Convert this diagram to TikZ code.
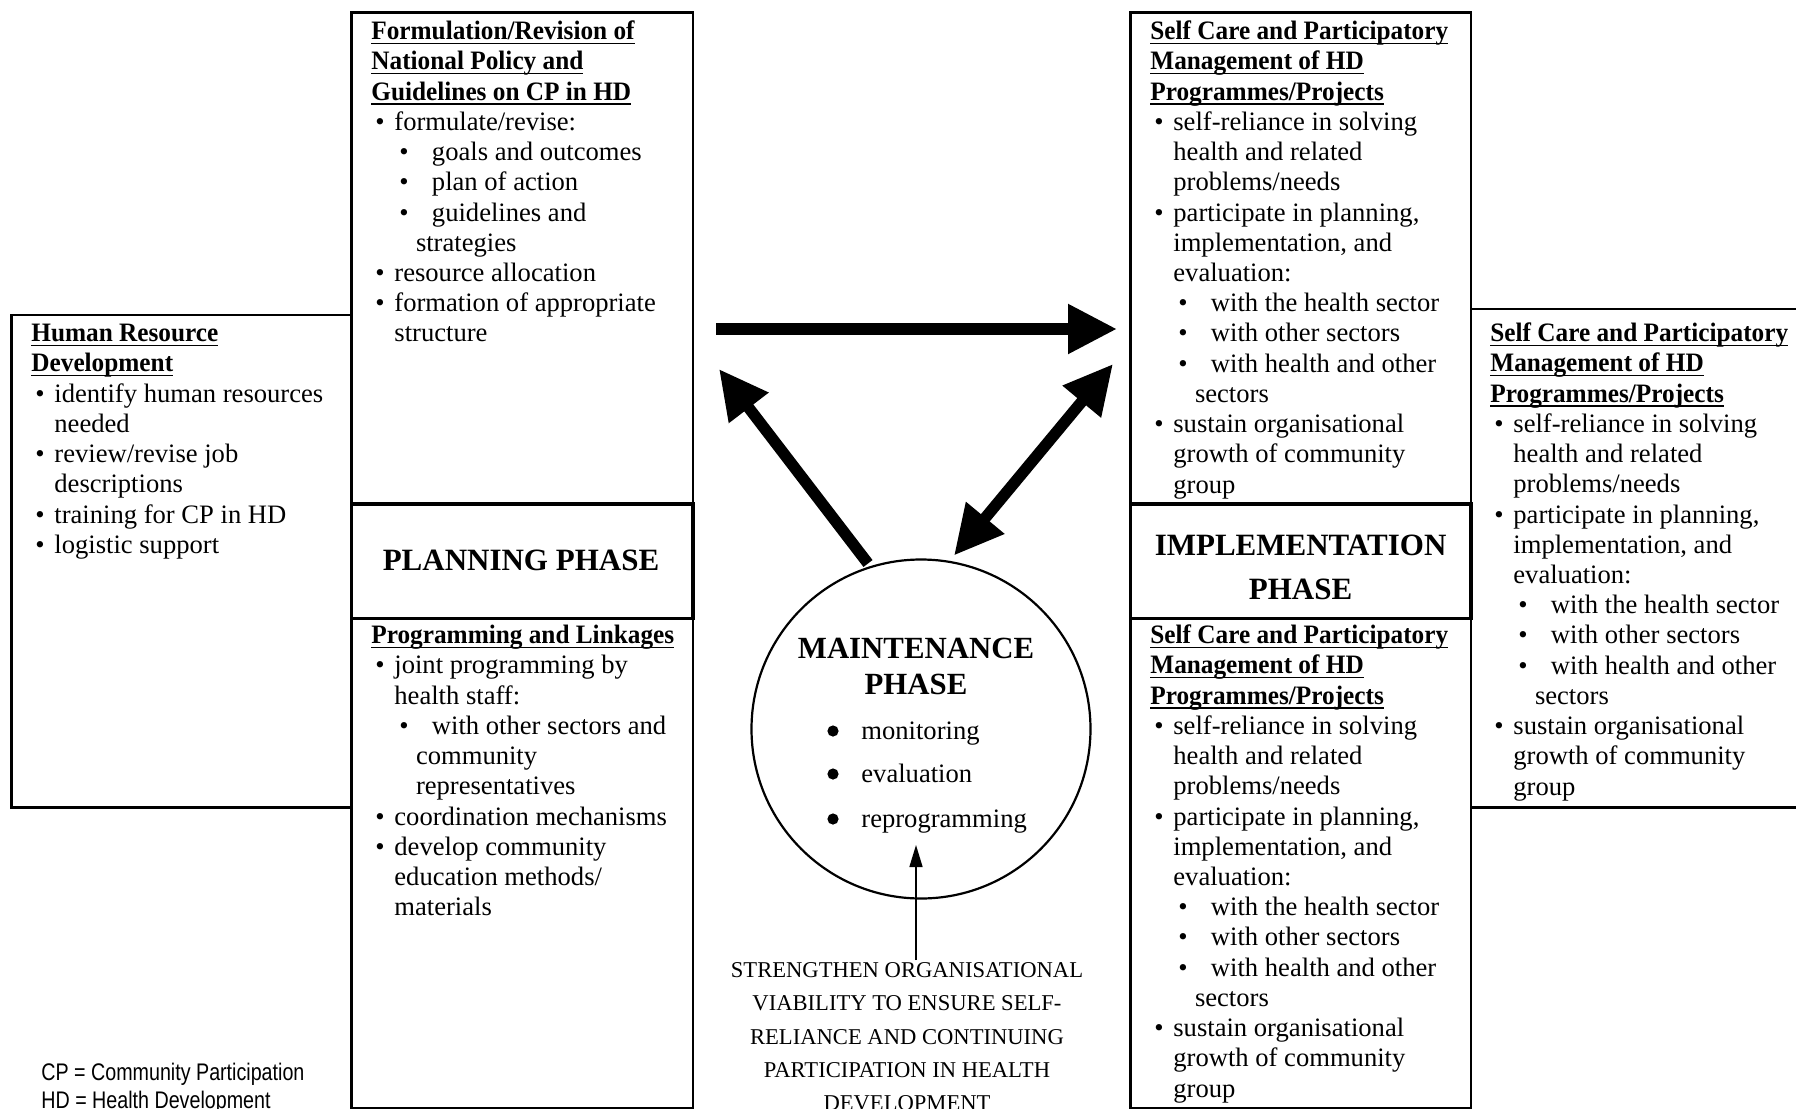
\documentclass[tikz,border=0pt]{standalone}
\usepackage{fontspec}
\setmainfont{Liberation Serif}
\newfontfamily\legfont{Liberation Sans}
\usepackage{graphicx}
\usetikzlibrary{arrows.meta}
\newcommand\ulbf[1]{\setbox0\hbox{\scalebox{0.95}[1]{\bfseries #1}}\rlap{\rule[-2.3pt]{\wd0}{0.7pt}}\box0}
\newcommand\bi{\hspace*{2pt}\makebox[9.5pt][l]{\textbullet}}
\newcommand\bic{\hspace*{11.5pt}}
\newcommand\bii{\hspace*{14pt}\makebox[16.3pt][l]{\textbullet}}
\newcommand\biic{\hspace*{22.3pt}}
\newcommand\selfcare{\strut\ulbf{Self Care and Participatory}\\
\ulbf{Management of HD}\\
\ulbf{Programmes/Projects}\\
\bi self-reliance in solving\\
\bic health and related\\
\bic problems/needs\\
\bi participate in planning,\\
\bic implementation, and\\
\bic evaluation:\\
\bii with the health sector\\
\bii with other sectors\\
\bii with health and other\\
\biic sectors\\
\bi sustain organisational\\
\bic growth of community\\
\bic group}
\begin{document}
\begin{tikzpicture}[x=0.5pt,y=-0.5pt,line join=miter,
  box/.style={line width=1.15pt},
  phasebox/.style={line width=1.8pt},
  txt/.style={anchor=north west,inner sep=0pt,align=left,font=\fontsize{13.3}{15.12}\selectfont},
  phase/.style={inner sep=0pt,align=center,font=\fontsize{15.5}{22.3}\selectfont\bfseries},
  bigarrow/.style={line width=5.7pt,-{Triangle[length=24.5pt,width=23.5pt]}},
  bigdouble/.style={line width=5.7pt,{Triangle[length=24.5pt,width=23.5pt]}-{Triangle[length=24.5pt,width=23.5pt]}},
  thinarrow/.style={line width=0.75pt,-{Triangle[length=11pt,width=6.5pt]}},
  item/.style={anchor=base west,inner sep=0pt,font=\fontsize{13.3}{15.12}\selectfont},
  legend/.style={anchor=west,inner sep=0pt}]
\useasboundingbox (0,0) rectangle (1796,1109);
% boxes
\draw[box] (11.5,315) rectangle (351.6,807.5);
\draw[box] (351.6,12.6) rectangle (693,504);
\draw[box] (351.6,618.5) rectangle (693,1108);
\draw[phasebox] (351.6,504) rectangle (693,618.5);
\draw[box] (1130.5,12.6) rectangle (1470.7,504);
\draw[box] (1130.5,618.5) rectangle (1470.7,1108);
\draw[phasebox] (1130.5,504) rectangle (1470.7,618.5);
\draw[box] (1470.7,309) rectangle (1805,807.5);
% texts
\node[txt] (formul) at (371,18) {\strut\ulbf{Formulation/Revision of}\\
\ulbf{National Policy and}\\
\ulbf{Guidelines on CP in HD}\\
\bi formulate/revise:\\
\bii goals and outcomes\\
\bii plan of action\\
\bii guidelines and\\
\biic strategies\\
\bi resource allocation\\
\bi formation of appropriate\\
\bic structure};
\node[txt] (hrd) at (31,320) {\strut\ulbf{Human Resource}\\
\ulbf{Development}\\
\bi identify human resources\\
\bic needed\\
\bi review/revise job\\
\bic descriptions\\
\bi training for CP in HD\\
\bi logistic support};
\node[txt] (prog) at (371,622) {\strut\ulbf{Programming and Linkages}\\
\bi joint programming by\\
\bic health staff:\\
\bii with other sectors and\\
\biic community\\
\biic representatives\\
\bi coordination mechanisms\\
\bi develop community\\
\bic education methods/\\
\bic materials};
\node[txt] (impltop) at (1150,18) {\selfcare};
\node[txt] (implbot) at (1150,622) {\selfcare};
\node[txt] (right) at (1490,320) {\selfcare};
\node[phase] (planning) at (521,560) {PLANNING PHASE};
\node[phase] (implementation) at (1300.6,567.5) {IMPLEMENTATION\\PHASE};
% maintenance circle
\node[circle,draw,line width=1.1pt,minimum size=169.5pt,inner sep=0pt] (maint) at (921,729) {};
\node[phase,font=\fontsize{15.4}{18}\selectfont\bfseries] (mtitle) at (916,666) {MAINTENANCE\\PHASE};
\fill (833,731) circle[radius=2.8pt];
\fill (833,774) circle[radius=2.8pt];
\fill (833,819) circle[radius=2.8pt];
\node[item] (mon) at (861,739) {monitoring};
\node[item] (eva) at (861,782) {evaluation};
\node[item] (rep) at (861,827) {reprogramming};
% bottom text
\node[anchor=north,inner sep=0pt,align=center,font=\fontsize{11.3}{16.6}\selectfont] (strength) at (907,954)
 {\strut STRENGTHEN ORGANISATIONAL\\VIABILITY TO ENSURE SELF-\\RELIANCE AND CONTINUING\\PARTICIPATION IN HEALTH\\DEVELOPMENT};
% legend
\node[legend] (cp) at (41,1074) {\scalebox{0.82}[1]{\legfont\fontsize{12}{14}\selectfont CP = Community Participation}};
\node[legend] (hd) at (41,1102) {\scalebox{0.82}[1]{\legfont\fontsize{12}{14}\selectfont HD = Health Development}};
% arrows
\coordinate (h1) at (716,329);
\coordinate (h2) at (1117,329);
\coordinate (u1) at (868,563.5);
\coordinate (u2) at (719,369);
\coordinate (d1) at (954,555.5);
\coordinate (d2) at (1113,364);
\coordinate (t1) at (916,960);
\coordinate (t2) at (916,845);
\draw[bigarrow] (h1) -- (h2);
\draw[bigarrow] (u1) -- (u2);
\draw[bigdouble] (d1) -- (d2);
\draw[thinarrow] (t1) -- (t2);
\end{tikzpicture}
\end{document}
